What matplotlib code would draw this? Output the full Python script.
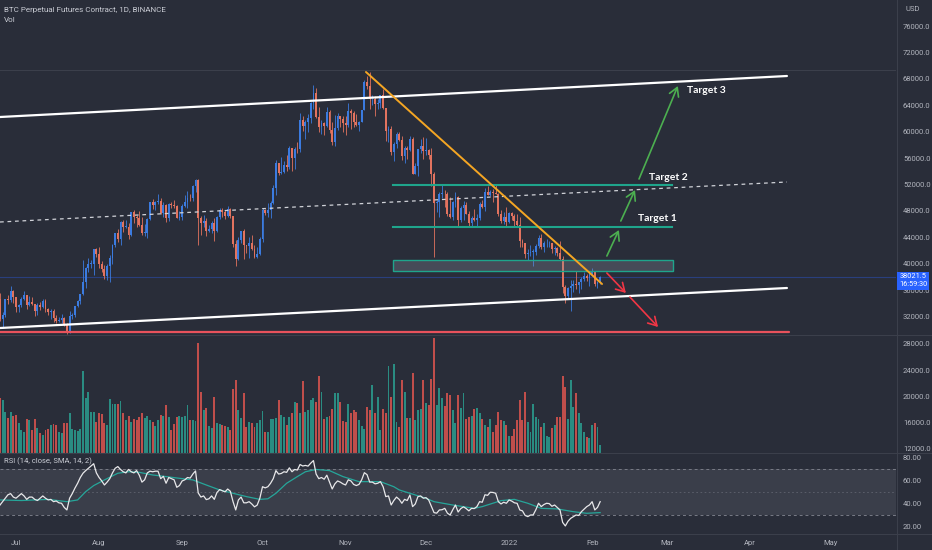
import matplotlib
matplotlib.use('Agg')
import matplotlib.pyplot as plt
from matplotlib import font_manager
from matplotlib.patches import Rectangle
from matplotlib.lines import Line2D
import numpy as np

# ---------------- DATA (prices in thousands USD, day 0 = 2021-06-25) ----------------
first_open_k = 34.7
close_k = (
    [31.6, 32.2, 34.7, 34.5, 35.9, 35.0] +
    [33.5, 33.8, 34.7, 35.3, 33.7, 34.2, 33.9, 32.9, 33.8, 33.5, 34.3, 33.1, 32.7, 32.8, 31.8, 31.4, 31.5, 31.8, 30.8, 29.8,
     32.1, 32.3, 33.6, 34.3, 35.4, 37.3, 39.4, 40.0, 40.0, 42.2, 41.5] +
    [39.9, 39.2, 38.2, 39.7, 40.9, 42.8, 44.6, 43.8, 46.3, 45.6, 45.6, 44.4, 47.8, 47.1, 47.0, 45.9, 44.7, 44.7, 46.8, 49.3,
     48.9, 49.3, 49.5, 47.7, 48.9, 46.9, 49.1, 48.9, 48.8, 47.0, 47.1] +
    [48.8, 49.3, 50.0, 49.9, 51.8, 52.7, 46.9, 46.1, 46.4, 44.9, 45.2, 46.1, 44.9, 47.1, 48.2, 47.8, 47.3, 48.3, 47.3, 43.0,
     40.7, 43.6, 44.9, 42.8, 42.7, 43.2, 42.2, 41.0, 41.5, 43.8] +
    [48.1, 47.7, 48.2, 49.2, 51.5, 55.3, 53.8, 53.9, 54.9, 54.7, 57.5, 56.0, 57.4, 57.3, 61.7, 60.9, 61.5, 62.0, 64.3, 65.9,
     62.2, 60.7, 61.3, 60.9, 63.0, 60.3, 58.4, 60.6, 62.3, 61.9, 61.3] +
    [61.0, 63.2, 62.9, 61.4, 61.0, 61.5, 63.3, 67.5, 66.9, 64.9, 64.9, 64.2, 64.4, 65.5, 63.6, 60.1, 60.4, 56.9, 58.1, 59.7,
     58.7, 56.3, 57.6, 57.2, 58.9, 53.6, 54.8, 57.3, 57.8, 57.0] +
    [57.2, 56.5, 53.6, 49.2, 49.4, 50.6, 50.6, 50.5, 47.6, 47.1, 49.4, 50.1, 46.7, 48.4, 48.9, 47.6, 46.2, 46.9, 46.7, 46.9,
     49.0, 48.6, 50.8, 50.4, 50.8, 50.7, 50.6, 47.5, 46.5, 47.1, 46.3] +
    [47.7, 47.3, 46.4, 45.8, 43.4, 43.1, 41.5, 41.7, 41.8, 41.8, 42.7, 43.9, 42.6, 43.1, 43.1, 43.1, 42.2, 42.4, 41.7, 40.7,
     36.5, 35.1, 36.3, 36.7, 36.9, 36.8, 37.2, 37.7, 38.2, 37.9, 38.5] +
    [38.7, 36.9, 37.3, 38.0215]
)
high_k = (
    [35.5, 32.7, 34.7, 35.3, 36.6, 36.0] +
    [35.0, 33.9, 34.9, 35.9, 35.3, 35.1, 35.0, 33.9, 34.1, 34.2, 34.6, 34.6, 33.3, 33.1, 33.2, 32.2, 31.9, 32.4, 31.9, 31.0,
     32.8, 32.6, 33.6, 34.5, 35.4, 40.5, 39.5, 40.9, 40.6, 42.3, 42.4] +
    [42.6, 40.4, 39.8, 39.9, 41.4, 43.0, 44.7, 45.3, 46.4, 46.6, 46.7, 46.2, 47.9, 48.1, 47.4, 48.0, 47.1, 46.0, 47.0, 49.4,
     49.8, 49.5, 50.5, 49.9, 49.3, 49.0, 49.2, 49.3, 49.6, 48.9, 48.0] +
    [49.0, 50.4, 51.0, 50.6, 51.9, 52.9, 52.9, 47.3, 47.4, 47.0, 45.9, 46.4, 46.9, 47.3, 48.4, 48.5, 48.1, 48.8, 48.4, 47.3,
     43.6, 44.0, 45.0, 45.2, 42.9, 44.0, 44.4, 42.8, 42.6, 44.1] +
    [48.5, 48.3, 49.2, 49.5, 51.9, 55.7, 55.3, 56.1, 55.5, 56.5, 57.8, 57.6, 57.7, 58.5, 62.9, 62.4, 61.7, 62.6, 64.5, 67.0,
     66.6, 63.7, 61.8, 61.5, 63.7, 63.3, 61.5, 62.5, 62.9, 62.3, 62.4] +
    [62.4, 64.3, 63.5, 63.1, 62.6, 61.6, 63.3, 67.8, 68.5, 69.0, 65.6, 65.4, 65.0, 65.5, 66.4, 63.6, 60.8, 60.9, 58.4, 59.9,
     60.0, 59.3, 57.9, 57.8, 59.4, 59.2, 55.3, 57.4, 58.9, 59.2] +
    [59.1, 57.4, 57.6, 53.9, 49.7, 50.9, 51.9, 51.2, 50.8, 50.1, 49.5, 50.8, 50.2, 48.7, 49.5, 49.4, 48.0, 47.3, 48.3, 47.5,
     49.3, 49.6, 51.4, 51.8, 51.2, 51.3, 52.1, 50.7, 48.1, 47.9, 48.6] +
    [47.9, 47.9, 47.6, 47.5, 47.1, 43.7, 43.1, 42.3, 42.8, 42.2, 43.0, 44.3, 44.5, 43.4, 43.8, 43.5, 43.2, 42.7, 42.5, 43.5,
     41.1, 36.8, 36.5, 37.5, 37.5, 38.9, 37.2, 38.0, 38.7, 38.4, 38.7] +
    [39.3, 38.9, 37.4, 38.2]
)
low_k = (
    [31.3, 30.2, 32.0, 33.9, 34.2, 34.0] +
    [32.7, 32.7, 33.4, 34.5, 33.2, 33.6, 33.8, 32.1, 32.3, 33.0, 33.3, 32.7, 32.2, 31.6, 31.2, 31.1, 31.2, 31.1, 30.5, 29.3,
     29.5, 31.7, 31.9, 33.4, 33.9, 35.2, 36.4, 38.8, 39.3, 38.3, 41.0] +
    [39.4, 38.7, 37.7, 37.5, 37.3, 39.9, 42.5, 43.3, 42.9, 44.8, 45.4, 43.8, 44.2, 46.1, 45.5, 45.7, 44.4, 44.2, 43.9, 46.6,
     48.3, 48.1, 49.0, 47.6, 47.1, 46.3, 46.4, 48.4, 48.4, 46.9, 46.7] +
    [46.6, 48.6, 48.4, 49.5, 49.5, 50.9, 42.8, 44.4, 45.5, 44.2, 44.8, 44.7, 43.4, 44.8, 46.8, 47.1, 46.8, 47.1, 46.9, 42.5,
     39.6, 40.6, 43.1, 40.7, 41.7, 40.8, 42.1, 40.9, 40.8, 41.4] +
    [43.3, 47.4, 47.1, 46.9, 49.1, 50.4, 53.4, 53.6, 53.7, 54.1, 54.4, 54.0, 54.3, 56.8, 56.9, 60.1, 58.9, 60.0, 61.3, 63.5,
     62.0, 60.0, 59.7, 59.5, 60.7, 59.8, 58.0, 57.8, 60.2, 60.7, 59.9] +
    [59.5, 60.7, 60.4, 60.7, 60.8, 60.1, 61.4, 63.3, 66.4, 63.4, 64.1, 62.3, 63.4, 63.6, 63.4, 58.6, 58.4, 56.5, 55.6, 57.5,
     58.6, 55.7, 55.3, 55.8, 57.0, 53.6, 53.6, 53.3, 56.7, 55.9] +
    [56.5, 55.9, 51.7, 41.0, 47.8, 47.1, 50.0, 48.6, 47.3, 46.9, 46.6, 48.6, 45.7, 46.3, 46.6, 47.5, 45.5, 45.5, 46.4, 45.6,
     46.6, 48.4, 48.0, 50.4, 50.2, 49.4, 50.5, 47.3, 46.1, 46.0, 45.7] +
    [46.2, 46.7, 45.7, 45.5, 42.5, 42.5, 40.8, 40.5, 41.2, 39.6, 41.3, 42.4, 42.3, 41.8, 42.6, 42.6, 41.6, 41.3, 41.2, 40.6,
     35.5, 34.0, 34.6, 32.9, 35.7, 36.2, 35.5, 36.2, 37.4, 37.4, 36.6] +
    [38.2, 36.6, 36.3, 37.0]
)
volume = (
    [19730, 19470, 17690, 16680, 17690, 17030] +
    [17190, 15920, 14900, 14650, 16530, 16420, 14900, 16530, 15150, 14490, 14140, 14900, 15050, 15660, 15760, 15660,
     14650, 14490, 15920, 15920, 17440, 15000, 14900, 14750, 15000, 23940, 19730, 20690, 17690, 17690, 16170] +
    [17540, 17290, 16020, 15660, 19570, 18860, 18860, 18860, 19320, 17440, 16420, 17030, 16170, 16530, 16420, 16830,
     17440, 16680, 17030, 16420, 16170, 15510, 16420, 17190, 17030, 18710, 16930, 14900, 15810, 16930, 17030] +
    [16930, 17030, 18710, 16420, 16420, 16320, 28110, 20740, 17950, 18200, 15510, 15150, 19980, 16020, 15810, 15660,
     15560, 15410, 14900, 21100, 22520, 17950, 16680, 20490, 15410, 16170, 15920, 15410, 15920, 16420] +
    [17800, 14650, 14650, 16530, 16530, 16680, 19470, 17190, 16930, 15660, 16930, 17440, 19220, 18960, 17440, 22420,
     17690, 17950, 19470, 19730, 19220, 23130, 20740, 16530, 16830, 17030, 18050, 20490, 20590, 19220, 16320] +
    [16170, 18860, 17540, 17950, 17690, 16420, 15510, 15000, 18350, 17950, 21760, 17440, 19980, 14900, 18050, 17540,
     24650, 19980, 24960, 16170, 15410, 22520, 20740, 16680, 16680, 23640, 16420, 17950, 18050, 22520] +
    [18960, 18710, 22620, 28870, 18710, 21250, 19730, 18560, 20490, 20230, 17950, 15920, 20230, 18200, 20490, 16530,
     16930, 17030, 18050, 18200, 17440, 16530, 15660, 15310, 16530, 14650, 15660, 17690, 16420, 16320, 15660] +
    [13990, 13990, 15000, 16420, 19470, 16420, 20740, 16170, 14540, 18860, 16830, 16530, 15410, 15920, 13990, 13880,
     15150, 15660, 16830, 16930, 23130, 21500, 16530, 22520, 18460, 20490, 17440, 16020, 14650, 13880, 13630] +
    [15660, 15920, 15410, 12610]
)
rsi = (
    [39, 42, 45, 48, 49, 46] +
    [45, 47, 49, 47, 44, 46, 46, 44, 43, 45, 47, 45, 43.5, 44, 42, 42.6, 41, 40.6, 37, 34.8,
     45, 49, 53.8, 58, 63, 66.7, 69, 71, 73, 75, 67] +
    [63, 60, 56.5, 59, 62, 67, 71, 72.5, 70, 68, 67, 70, 68, 67, 69, 65, 59, 61, 67, 68.5,
     68, 68.5, 68.5, 62, 64, 58, 63, 62, 61, 54.5, 56] +
    [60, 61, 63, 62.5, 66, 68.7, 49.6, 46, 47, 43.8, 44.5, 47, 44, 50, 52.5, 51.5, 50.5, 53, 51, 42,
     34.8, 43.5, 46, 41, 41, 42, 40, 37.5, 39, 45] +
    [55, 54, 55, 58, 62, 69, 66, 66.5, 68, 67.5, 71.4, 68, 70, 69.5, 74.3, 73, 73.5, 72.9, 75.5, 77.7,
     66, 62, 63, 61.5, 65, 59, 53, 57.5, 60, 59, 57.5] +
    [56.5, 61, 60, 57, 56, 57, 61, 67.2, 65.5, 59, 59, 57.5, 58, 59.4, 55, 46.4, 47, 39.1, 43, 46,
     44, 40.6, 44, 43, 47.8, 37.7, 40, 46.4, 47, 45] +
    [45.5, 43.5, 38, 32.5, 32, 34.8, 35, 36.2, 32, 30.4, 35, 39.1, 33, 36, 37.5, 36, 34, 36.2, 36, 37.7,
     42, 41.5, 48, 47.5, 50.2, 50, 49.3, 42, 40, 41.5, 40.6] +
    [43.5, 42.5, 41, 40.6, 34.8, 34, 30, 29, 30.4, 30.5, 35, 40.6, 37.7, 39.5, 40.6, 40.3, 38, 39.1, 37, 34.8,
     24, 20.9, 25, 27.5, 29, 30.4, 30, 33.3, 35.5, 37.7, 39.1] +
    [42, 34.8, 37, 42]
)
rsi_sma_day = [0, 8, 18, 25, 29, 32, 35, 39, 44, 48, 52, 57, 62, 67, 72, 77, 82, 87, 92, 97, 100, 103, 107, 111, 114,
               118, 123, 128, 134, 142, 147, 149, 153, 159, 162, 169, 177, 180, 187, 192, 197, 202, 208, 214, 219, 224]
rsi_sma = [43.5, 43, 44, 42, 43.5, 50.7, 56, 60.9, 66.7, 68, 67.5, 65.2, 63.8, 62.3, 60.9, 56.5, 52.2, 49.3, 46.4, 44,
           44.5, 49.3, 58, 63.8, 68, 70, 69, 63.8, 59.4, 59.4, 55, 52.2, 49.3, 44.9, 42, 39.1, 36.2, 37.7, 42.9, 44,
           40.6, 36.2, 35.7, 33.3, 31.9, 32.5]

tick_days = [6, 37, 68, 98, 129, 159, 190, 221, 249, 280, 310]
tick_labels = ['Jul', 'Aug', 'Sep', 'Oct', 'Nov', 'Dec', '2022', 'Feb', 'Mar', 'Apr', 'May']
price_ticks = list(range(32000, 76001, 4000))
vol_ticks = [12000, 16000, 20000, 24000, 28000]
rsi_ticks = [20, 40, 60, 80]
last_price = 38021.5
countdown = '16:59:30'

# drawings: (day, price)
channel_top = [(0.03, 62221), (293.7, 68429)]
channel_bottom = [(0.03, 30270), (293.7, 36327)]
channel_mid = [(0.03, 46321), (293.7, 52378)]
trend_line = [(136.6, 69034), (224.7, 36933)]
target_levels = [51924, 45564]
target_span = (146.7, 250.8)
zone = (146.7, 251.2, 38901, 40567)
support_line = [(0.03, 29666), (294.4, 29666)]
green_arrows = [((226.5, 41173), (231.0, 45110)),
                ((231.7, 46472), (237.0, 51167)),
                ((238.5, 52832), (253.0, 66915))]
red_arrows = [((226.5, 38598), (233.6, 35570)),
              ((235.1, 34964), (245.6, 30422))]
target_texts = [('Target 1', 238.1, 46926), ('Target 2', 242.2, 53135), ('Target 3', 256.4, 66309)]
ath_line = 69337

assert len(close_k) == len(high_k) == len(low_k) == len(volume) == len(rsi) == 225

# ---------------- STYLE ----------------
avail = {f.name for f in font_manager.fontManager.ttflist}
def pick(*names):
    for n in names:
        if n in avail:
            return n
    return 'DejaVu Sans'
UI = pick('Liberation Sans Narrow', 'Roboto', 'DejaVu Sans')
BOLDF = pick('Lato', 'Roboto', 'DejaVu Sans')
plt.rcParams['font.family'] = [UI, 'DejaVu Sans']

BG = '#292d39'
TXT = '#b2b5be'
SEP = '#3b3f4b'
UP = '#3b7be0'
DN = '#e2735f'
VUP = '#2a8c82'
VDN = '#c04e4b'

W, H = 932, 550
fig = plt.figure(figsize=(W / 100, H / 100), dpi=100)
fig.patch.set_facecolor(BG)

def ax_px(x0, y0, x1, y1):
    a = fig.add_axes([x0 / W, 1 - y1 / H, (x1 - x0) / W, (y1 - y0) / H])
    a.set_facecolor(BG)
    for s in a.spines.values():
        s.set_visible(False)
    a.set_xlim(0.03, 334.4)
    a.yaxis.tick_right()
    a.tick_params(axis='y', length=0, pad=5, labelsize=5.5, labelcolor=TXT)
    a.tick_params(axis='x', length=0, labelbottom=False)
    return a

ax_p = ax_px(0, 0, 896, 335)
ax_v = ax_px(0, 335, 896, 453)
ax_r = ax_px(0, 453, 896, 534)

days = np.arange(len(close_k))
c = np.array(close_k) * 1000
o = np.array([first_open_k] + close_k[:-1]) * 1000
h = np.maximum(np.array(high_k) * 1000, np.maximum(o, c))
l = np.minimum(np.array(low_k) * 1000, np.minimum(o, c))
up = c >= o

# ---------- price pane ----------
ax_p.set_ylim(29211, 79937)
ax_p.set_yticks(price_ticks)
ax_p.set_yticklabels([f'{t:.1f}' for t in price_ticks])
ax_p.axhline(ath_line, color=SEP, lw=0.8, zorder=1)
ax_p.axhline(last_price, color='#2962ff', lw=0.8, alpha=0.35, zorder=1)

ccol = np.where(up, UP, DN)
ax_p.vlines(days, l, h, colors=ccol, lw=0.6, zorder=3)
body = np.maximum(np.abs(c - o), 60)
ax_p.bar(days, body, bottom=np.minimum(o, c), width=0.7, color=ccol, linewidth=0, zorder=3)

def seg(pts, **kw):
    ax_p.plot([p[0] for p in pts], [p[1] for p in pts], solid_capstyle='round', **kw)

seg(channel_top, color='white', lw=1.6, zorder=5)
seg(channel_bottom, color='white', lw=1.6, zorder=5)
seg(channel_mid, color='#d0d2d8', lw=0.9, ls=(0, (3, 3)), zorder=5)
seg(support_line, color='#e8525c', lw=1.6, zorder=5)
seg(trend_line, color='#f5a623', lw=1.4, zorder=6)
for lv in target_levels:
    ax_p.plot(list(target_span), [lv, lv], color='#1fa58c', lw=1.5, zorder=5)
zx0, zx1, zy0, zy1 = zone
ax_p.add_patch(Rectangle((zx0, zy0), zx1 - zx0, zy1 - zy0, facecolor=(0.55, 0.57, 0.63, 0.3),
                         edgecolor='#1fa58c', lw=1.0, zorder=4))
for (s, e) in green_arrows:
    ax_p.annotate('', xy=e, xytext=s, zorder=7,
                  arrowprops=dict(arrowstyle='->,head_length=0.6,head_width=0.35', color='#4caf50',
                                  lw=1.2, shrinkA=0, shrinkB=0))
for (s, e) in red_arrows:
    ax_p.annotate('', xy=e, xytext=s, zorder=7,
                  arrowprops=dict(arrowstyle='->,head_length=0.6,head_width=0.35', color='#f23645',
                                  lw=1.2, shrinkA=0, shrinkB=0))
for (t, dx, py) in target_texts:
    ax_p.text(dx, py, t, color='white', fontsize=7.5, fontweight='bold', family=[BOLDF, 'DejaVu Sans'],
              ha='left', va='center', zorder=8)

# ---------- volume pane ----------
ax_v.set_ylim(11390, 29371)
ax_v.set_yticks(vol_ticks)
ax_v.set_yticklabels([f'{t:.1f}' for t in vol_ticks])
ax_v.bar(days, volume, width=0.72, color=np.where(up, VUP, VDN), linewidth=0, zorder=3)

# ---------- RSI pane ----------
ax_r.set_ylim(13.9, 84.3)
ax_r.set_yticks(rsi_ticks)
ax_r.set_yticklabels([f'{t:.2f}' for t in rsi_ticks])
ax_r.axhspan(30, 70, color='#8a8d99', alpha=0.18, lw=0, zorder=1)
ax_r.axhline(70, color='#787b86', lw=0.7, ls=(0, (3, 3)), zorder=2)
ax_r.axhline(30, color='#787b86', lw=0.7, ls=(0, (3, 3)), zorder=2)
ax_r.axhline(50, color='#787b86', lw=0.6, ls=(0, (2, 3)), alpha=0.6, zorder=2)
ax_r.plot(rsi_sma_day, rsi_sma, color='#26a69a', lw=0.9, zorder=3)
ax_r.plot(days, rsi, color='#e8e8ea', lw=0.9, zorder=4)
ax_r.set_xticks(tick_days)
ax_r.set_xticklabels(tick_labels)
ax_r.tick_params(axis='x', length=0, labelbottom=True, labelsize=5.5, labelcolor=TXT, pad=4)

# ---------- frame / labels ----------
def fline(x0, y0, x1, y1, color=SEP, lw=0.8):
    fig.add_artist(Line2D([x0 / W, x1 / W], [1 - y0 / H, 1 - y1 / H], color=color, lw=lw, zorder=3))

fline(0, 335, 932, 335)
fline(0, 453, 932, 453)
fline(0, 534, 932, 534)
fline(896.5, 0, 896.5, 550)

fig.text(4 / W, 1 - 10 / H, 'BTC Perpetual Futures Contract, 1D, BINANCE', fontsize=5.8, color='#c9ccd4',
         va='center', ha='left')
fig.text(4 / W, 1 - 20.5 / H, 'Vol', fontsize=5.8, color='#c9ccd4', va='center', ha='left')
fig.text(4 / W, 1 - 461 / H, 'RSI (14, close, SMA, 14, 2)', fontsize=5.5, color='#c9ccd4', va='center', ha='left')
fig.text(913 / W, 1 - 9 / H, 'USD', fontsize=5.5, color=TXT, va='center', ha='center')

fig.add_artist(Rectangle((897 / W, 1 - 290 / H), 32 / W, 18 / H, transform=fig.transFigure,
                         facecolor='#2962ff', edgecolor='none', zorder=10))
fig.text(913 / W, 1 - 276.5 / H, f'{last_price:.1f}', fontsize=5.3, color='white', va='center', ha='center',
         zorder=11)
fig.text(913 / W, 1 - 284.5 / H, countdown, fontsize=5.3, color='white', va='center', ha='center', zorder=11)

fig.savefig('out.png', dpi=100, facecolor=BG)
